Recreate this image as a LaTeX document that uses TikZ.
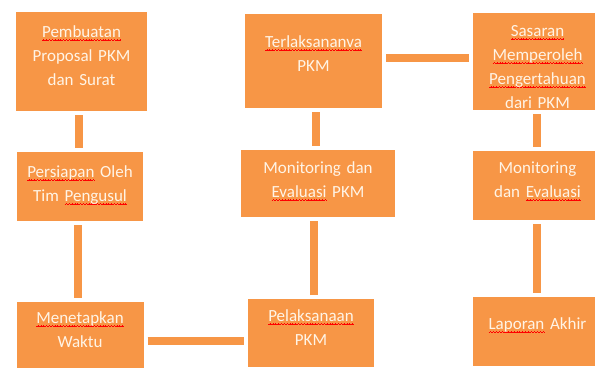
\documentclass[tikz,border=0pt]{standalone}
\usepackage{fontspec}
\setmainfont{Carlito}[WordSpace=0.5]
\usepackage{tikz}
\usetikzlibrary{positioning, shadows}
\definecolor{boxorange}{HTML}{F79646}
\definecolor{boxtext}{HTML}{FFF4E6}
% red wavy spell-check line under a word
\newcommand\spell[1]{\leavevmode\setbox0\hbox{#1}\rlap{\color{red}\hbox to\wd0{\xleaders\hbox{\rule[-3.6pt]{0.7pt}{0.6pt}\rule[-3.1pt]{0.7pt}{0.6pt}\rule[-2.6pt]{0.7pt}{0.6pt}\rule[-3.1pt]{0.7pt}{0.6pt}}\hfill}}#1}
\tikzstyle{box} = [rectangle, fill=boxorange, draw=white, line width=4pt, inner sep=0pt, align=center, text=boxtext, font=\fontsize{17}{24}\selectfont, text height=27pt, drop shadow={shadow xshift=2.4pt, shadow yshift=-2.4pt, opacity=0.18, fill=black}]
\tikzstyle{bar} = [draw=white, line width=2.5pt, double=boxorange, double distance=8pt]

\begin{document}
\begin{tikzpicture}[x=1pt, y=-1pt]
    \path[use as bounding box, fill=white] (0,0) rectangle (595,370);

    % left column
    \node (b1) [box, text width=135pt, text depth=76pt, anchor=north west] at (12,8) {\spell{Pembuatan}\\Proposal PKM\\dan Surat};
    \node (b2) [box, text width=130pt, text depth=46pt, below=33pt of b1, xshift=-1.5pt] {\spell{Persiapan} Oleh\\Tim \spell{Pengusul}};
    \node (b3) [box, text width=131pt, text height=23pt, text depth=47pt, below=73pt of b2] {\spell{Menetapkan}\\Waktu};

    % middle column
    \node (b6) [box, text width=141pt, text height=35pt, text depth=63pt, anchor=north west] at (241,10) {\spell{Terlaksananva}\\PKM};
    \node (b5) [box, text width=158pt, text height=25pt, text depth=46pt, below=34pt of b6, xshift=4.5pt] {Monitoring dan\\\spell{Evaluasi} PKM};
    \node (b4) [box, text width=130pt, text height=24pt, text depth=48pt, below=74pt of b5, xshift=-7pt] {\spell{Pelaksanaan}\\PKM};

    % right column
    \node (b7) [box, text width=133pt, text height=25pt, text depth=76pt, anchor=north west] at (469,9) {\spell{Sasaran}\\\spell{Memperoleh}\\\spell{Pengertahuan}\\dari PKM};
    \node (b8) [box, text width=133pt, text height=24pt, text depth=49pt, below=33pt of b7] {Monitoring\\dan \spell{Evaluasi}};
    \node (b9) [box, text width=133pt, text height=34pt, text depth=39pt, below=69pt of b8] {\spell{Laporan} Akhir};

    % connectors
    \draw[bar] ([xshift=-2.5pt]b1.south) -- ([xshift=-2.5pt]b1.south |- b2.north);
    \draw[bar] ([xshift=-2.5pt]b2.south) -- ([xshift=-2.5pt]b2.south |- b3.north);
    \draw[bar] ([yshift=-5.5pt]b3.east) -- ([yshift=-5.5pt]b3.east -| b4.west);
    \draw[bar] ([xshift=3pt]b4.north) -- ([xshift=3pt]b4.north |- b5.south);
    \draw[bar] ([xshift=2.5pt]b6.south) -- ([xshift=2.5pt]b6.south |- b5.north);
    \draw[bar] ([yshift=3pt]b6.east) -- ([yshift=3pt]b6.east -| b7.west);
    \draw[bar] ([xshift=-1pt]b7.south) -- ([xshift=-1pt]b7.south |- b8.north);
    \draw[bar] ([xshift=-1pt]b8.south) -- ([xshift=-1pt]b8.south |- b9.north);
\end{tikzpicture}
\end{document}
